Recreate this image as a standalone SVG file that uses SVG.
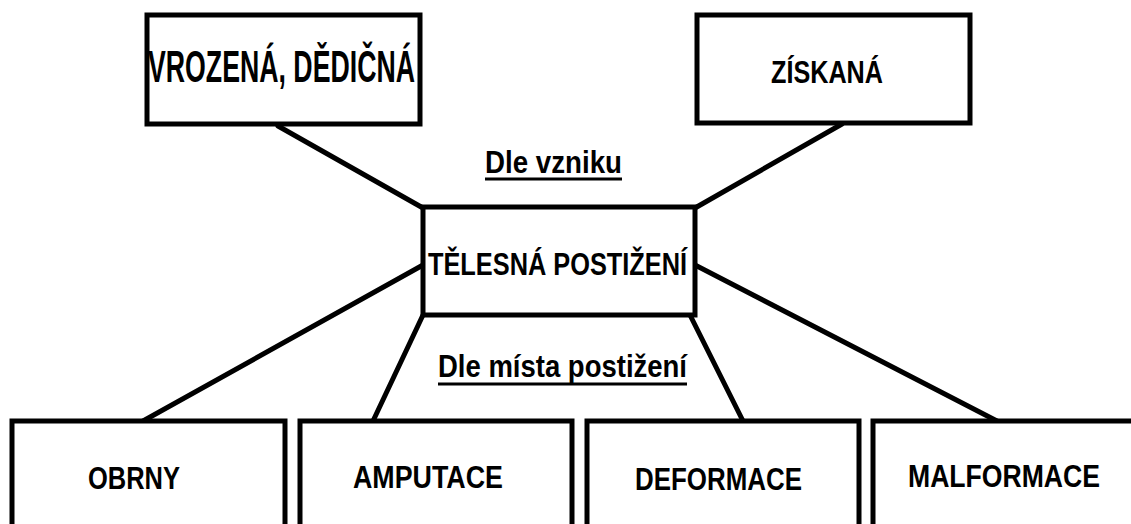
<svg xmlns="http://www.w3.org/2000/svg" width="1131" height="524" viewBox="0 0 1131 524">
<style>
.box{fill:#fff;stroke:#000;stroke-width:5}
.lbl{font-family:"Liberation Sans",Arial,sans-serif;font-weight:bold;fill:#000}
.con{stroke:#000;stroke-width:5;stroke-linecap:round;fill:none}
.ul{stroke:#000;stroke-width:3}
</style>
<rect width="1131" height="524" fill="#fff"/>
<g id="connectors">
<line class="con" x1="278" y1="126" x2="423" y2="208"/>
<line class="con" x1="842" y1="124" x2="695" y2="208"/>
<line class="con" x1="423" y1="265" x2="143" y2="421"/>
<line class="con" x1="423" y1="315" x2="373" y2="421"/>
<line class="con" x1="690" y1="315" x2="743" y2="421"/>
<line class="con" x1="695" y1="265" x2="997" y2="421"/>
</g>
<g id="node-vrozena">
<rect class="box" x="147" y="15" width="273" height="109"/>
<text class="lbl" x="148" y="82" font-size="44" textLength="267" lengthAdjust="spacingAndGlyphs">VROZENÁ, DĚDIČNÁ</text>
</g>
<g id="node-ziskana">
<rect class="box" x="697" y="15" width="273" height="108"/>
<text class="lbl" x="771" y="83" font-size="32" textLength="112" lengthAdjust="spacingAndGlyphs">ZÍSKANÁ</text>
</g>
<g id="node-telesna">
<rect class="box" x="423" y="207" width="272" height="108"/>
<text class="lbl" x="428" y="275" font-size="32" textLength="259" lengthAdjust="spacingAndGlyphs">TĚLESNÁ POSTIŽENÍ</text>
</g>
<g id="label-vzniku">
<text class="lbl" x="485" y="173" font-size="32" textLength="137" lengthAdjust="spacingAndGlyphs">Dle vzniku</text>
<line class="ul" x1="485" y1="179" x2="622" y2="179"/>
</g>
<g id="label-mista">
<text class="lbl" x="438" y="377" font-size="32" textLength="249" lengthAdjust="spacingAndGlyphs">Dle místa postižení</text>
<line class="ul" x1="438" y1="384" x2="687" y2="384"/>
</g>
<g id="node-obrny">
<rect class="box" x="12" y="421" width="273" height="120"/>
<text class="lbl" x="88" y="489" font-size="32" textLength="92" lengthAdjust="spacingAndGlyphs">OBRNY</text>
</g>
<g id="node-amputace">
<rect class="box" x="300" y="421" width="272" height="120"/>
<text class="lbl" x="353" y="488" font-size="32" textLength="150" lengthAdjust="spacingAndGlyphs">AMPUTACE</text>
</g>
<g id="node-deformace">
<rect class="box" x="587" y="421" width="272" height="120"/>
<text class="lbl" x="635" y="490" font-size="32" textLength="167" lengthAdjust="spacingAndGlyphs">DEFORMACE</text>
</g>
<g id="node-malformace">
<rect class="box" x="873" y="421" width="272" height="120"/>
<text class="lbl" x="908" y="487" font-size="32" textLength="192" lengthAdjust="spacingAndGlyphs">MALFORMACE</text>
</g>
</svg>
